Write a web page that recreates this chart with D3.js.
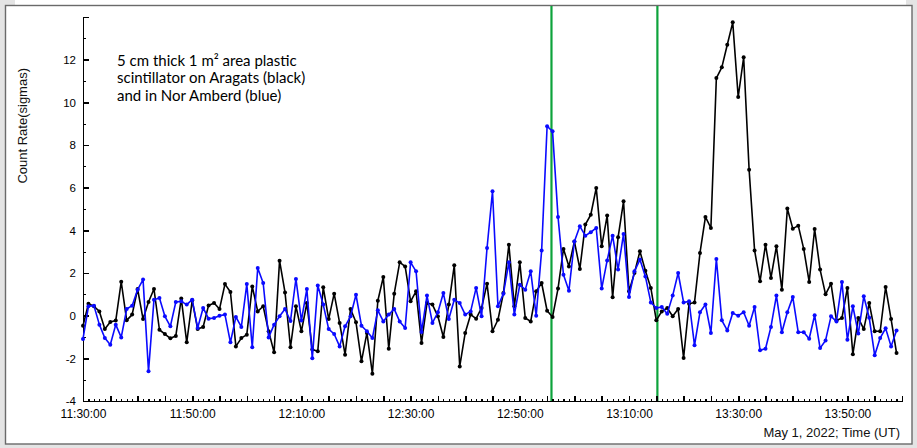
<!DOCTYPE html>
<html>
<head>
<meta charset="utf-8">
<script src="https://cdn.jsdelivr.net/npm/d3@7/dist/d3.min.js"></script>
<style>
  body { margin: 0; background: #fff; }
  .axis path, .axis line { stroke: #000; stroke-width: 1.6; shape-rendering: crispEdges; }
  .axis.minor line { stroke-width: 1.2; }
  .axis text { font-family: 'Liberation Sans', Arial, sans-serif; fill: #000; }
  .series { fill: none; stroke-width: 1.6; stroke-linejoin: round; }
  .note { font-family: Lato, 'Open Sans', sans-serif; font-size: 15px; fill: #000; }
  .title { font-family: 'Liberation Sans', Arial, sans-serif; font-size: 13px; fill: #111; }
</style>
</head>
<body>
<div id="chart"></div>
<script>

// Data, one value per minute starting 11:30 (UT)
var startTime = '11:30';
var endTime   = '14:00';

var aragatsRate = [
  -0.47, 0.56, 0.44, 0.2, -0.63, -0.3, -0.23, 1.59, -0.22, 0.05,
  1.25, -0.16, 0.64, 1.25, -0.66, -0.86, -1.06, -0.95, 0.8, -1.25,
  0.72, -0.63, -0.53, 0.48, 0.59, 0.31, 1.48, 1.11, -1.44, -1.05,
  -0.89, 1.37, 0.2, 0.44, -0.73, -1.72, 2.58, 1.09, -1.48, 0.44,
  -0.73, 0.59, -1.59, -1.67, 1.33, -0.16, 1.03, -0.34, -1.83, 0.31,
  -0.31, -2.14, -0.81, -2.72, 0.7, 1.81, -1.55, 1.03, 2.5, 2.31,
  0.67, 1.14, -1.28, 0.59, 0.52, -0.03, -1.0, 0.52, 2.36, -2.38,
  -0.81, 0.05, -0.14, 0.36, 1.5, -0.73, -0.19, 1.06, 3.33, 0.44,
  2.5, -0.11, -0.27, 1.14, 1.53, 0.23, -0.06, 1.27, 3.13, 2.31,
  3.48, 2.19, 4.27, 4.73, 5.99, 3.25, 4.69, 0.86, 3.67, 5.36,
  1.14, 2.0, 3.02, 2.11, 1.3, -0.22, 0.2, 0.36, -0.03, 0.31,
  -1.98, 0.56, 0.62, 2.94, 4.63, 4.11, 11.14, 11.64, 12.7, 13.75,
  10.25, 12.11, 6.84, 3.06, 1.61, 3.33, 1.77, 3.25, 1.22, 5.02,
  4.08, 4.22, 3.13, 1.58, 4.06, 2.16, 1.0, 1.5, -0.23, -0.11,
  1.3, -1.81, -0.11, -0.63, 0.59, -0.73, -0.73, 1.34, -0.16, -1.75
];

var norAmberdRate = [
  -1.09, 0.44, 0.47, -0.42, -1.05, -1.36, -0.42, -1.02, 0.31, 0.47,
  1.22, 1.69, -2.61, 0.75, 0.83, -0.03, -0.5, 0.64, 0.67, 0.52,
  0.75, -0.58, 0.36, -0.14, -0.11, 0, 0.05, -1.25, -0.06, -0.53,
  1.48, -1.48, 2.23, 1.53, -1.02, -0.42, -0.03, 0.31, -0.25, 1.72,
  -0.23, 1.25, -2.0, 1.41, 0.52, -0.63, -0.86, -1.44, -0.5, -0.03,
  0.98, -0.47, -0.73, -1.05, 0.25, -0.27, 0.05, 0.31, -0.27, -0.58,
  2.5, 2.08, -0.77, 0.94, -0.34, 0.16, 1.06, -0.16, 0.75, 0.59,
  0.05, 0.2, 1.3, -0.03, 3.17, 5.83, 0.44, 1.03, 2.5, 0.05,
  1.45, 1.22, 2.08, 0, 3.05, 8.88, 8.64, 4.63, 1.92, 1.17,
  3.48, 4.19, 3.75, 3.91, 4.11, 1.27, 2.59, 3.75, 2.16, 3.83,
  0.88, 2.08, 2.63, 1.84, 0.62, 0.36, 0.41, 0.09, 0.94, 2.0,
  0.62, 0.67, -1.39, 0.16, 0.52, -0.81, 2.66, -0.22, -0.69, 0.12,
  0, 0.16, -0.47, 0.41, -1.62, -1.55, -0.53, 0.94, -0.78, 0.16,
  0.87, -0.78, -0.78, -1.08, 0.02, -1.52, -1.16, -0.03, -0.27, 1.58,
  -1.13, 0.44, -0.84, 0.91, -0.1, -1.86, -1.05, -0.59, -1.44, -0.69
];

// Vertical green markers
var markerTimes = ['12:55:48', '13:15:12'];

var yMajorTicks = [-4, -2, 0, 2, 4, 6, 8, 10, 12, 14];
var yMinorTicks = [-3, -1, 1, 3, 5, 7, 9, 11, 13];

var noteLines = [
  '5 cm thick 1 m\u00b2 area plastic',
  'scintillator on Aragats (black)',
  'and in Nor Amberd (blue)'
];

var TimeGraph = function( _id ) {

  var that = this;

  that.id = _id;

  that.widthCont  = 917;
  that.heightCont = 448;
  that.margin     = {top: 17, right: 15, bottom: 47, left: 83};

  that.init = function() {

    that.width  = that.widthCont - that.margin.left - that.margin.right;
    that.height = that.heightCont - that.margin.top - that.margin.bottom;

    var parseMin = d3.timeParse('%H:%M');
    var parseSec = d3.timeParse('%H:%M:%S');

    that.start   = parseMin(startTime);
    that.times   = d3.timeMinute.range(that.start, parseMin(endTime));
    that.markers = markerTimes.map(function(t) { return parseSec(t); });

    that.x = d3.scaleTime()
      .domain([that.start, parseMin(endTime)])
      .range([0, that.width]);

    that.y = d3.scaleLinear()
      .domain([d3.min(yMajorTicks), d3.max(yMajorTicks)])
      .range([that.height, 0]);

    that.svg = d3.select('#'+that.id).append('svg')
      .attr('width', that.widthCont)
      .attr('height', that.heightCont);

    drawFrame();

    that.container = that.svg.append('g')
      .attr('transform', 'translate(' + that.margin.left + ',' + that.margin.top + ')');

    drawMarkers();
    drawAxes();
    drawSeries(aragatsRate, '#000');
    drawSeries(norAmberdRate, '#0a0aff');
    drawTexts();

    return that;
  };

  var drawFrame = function() {
    // grey window edges round the white panel
    that.svg.append('rect')
      .attr('width', that.widthCont).attr('height', that.heightCont)
      .attr('fill', '#fff');
    that.svg.append('rect')
      .attr('x', 0).attr('y', 0).attr('width', 5).attr('height', that.heightCont)
      .attr('fill', '#e4e4e4');
    that.svg.append('rect')
      .attr('x', 0).attr('y', 0).attr('width', 15).attr('height', 5)
      .attr('fill', '#e4e4e4');
    that.svg.append('rect')
      .attr('x', that.widthCont - 11).attr('y', 0).attr('width', 11).attr('height', that.heightCont)
      .attr('fill', '#e4e4e4');
    that.svg.append('rect')
      .attr('x', 0).attr('y', that.heightCont - 4).attr('width', that.widthCont).attr('height', 4)
      .attr('fill', '#e4e4e4');
    that.svg.append('rect')
      .attr('x', 5.5).attr('y', 5.5)
      .attr('width', that.widthCont - 11 + 0.5).attr('height', that.heightCont - 9.5)
      .attr('fill', '#fff')
      .attr('stroke', '#6a6a6a')
      .attr('stroke-width', 1.4);
  };

  var drawMarkers = function() {
    that.container.selectAll('.marker')
      .data(that.markers)
    .enter().append('line')
      .attr('class', 'marker')
      .attr('x1', function(d) { return that.x(d); })
      .attr('x2', function(d) { return that.x(d); })
      .attr('y1', -that.margin.top + 6)
      .attr('y2', that.height)
      .attr('stroke', '#0da33c')
      .attr('stroke-width', 2.2);
  };

  var drawAxes = function() {
    var fmt = d3.timeFormat('%H:%M:%S');

    // minute ticks
    that.container.append('g')
      .attr('class', 'x axis minor')
      .attr('transform', 'translate(0,' + that.height + ')')
      .call(d3.axisBottom(that.x)
        .ticks(d3.timeMinute.every(1))
        .tickSizeInner(-2.5).tickSizeOuter(0)
        .tickFormat(''));

    // 5 minute ticks, labels every 20 minutes
    that.container.append('g')
      .attr('class', 'x axis')
      .attr('transform', 'translate(0,' + that.height + ')')
      .call(d3.axisBottom(that.x)
        .ticks(d3.timeMinute.every(5))
        .tickSizeInner(-5.5).tickSizeOuter(0).tickPadding(8)
        .tickFormat(function(d) {
          return d3.timeMinute.count(that.start, d) % 20 === 0 ? fmt(d) : '';
        }))
      .selectAll('text')
      .style('font-size', '12px');

    that.container.append('g')
      .attr('class', 'y axis minor')
      .call(d3.axisLeft(that.y)
        .tickValues(yMinorTicks)
        .tickSizeInner(-3).tickSizeOuter(0)
        .tickFormat(''));

    that.container.append('g')
      .attr('class', 'y axis')
      .call(d3.axisLeft(that.y)
        .tickValues(yMajorTicks)
        .tickSizeInner(-5.5).tickSizeOuter(0).tickPadding(7)
        .tickFormat(function(d) { return d === d3.max(yMajorTicks) ? '' : d; }))
      .selectAll('text')
      .style('font-size', '11.5px');

    // longer cap on the top of the y axis
    that.container.select('g.y.axis').selectAll('.tick line')
      .filter(function(d) { return d === d3.max(yMajorTicks); })
      .attr('x2', 7.5);
  };

  var drawSeries = function(values, colour) {
    var data = that.times.map(function(t, i) { return {time: t, value: values[i]}; });

    var line = d3.line()
      .x(function(d) { return that.x(d.time); })
      .y(function(d) { return that.y(d.value); });

    var g = that.container.append('g');

    g.append('path')
      .datum(data)
      .attr('class', 'series')
      .attr('stroke', colour)
      .attr('d', line);

    g.selectAll('circle')
      .data(data)
    .enter().append('circle')
      .attr('cx', function(d) { return that.x(d.time); })
      .attr('cy', function(d) { return that.y(d.value); })
      .attr('r', 2)
      .attr('fill', colour);
  };

  var drawTexts = function() {
    that.svg.append('text')
      .attr('class', 'title')
      .attr('transform', 'translate(27,' + (that.margin.top + that.y(8.9)) + ') rotate(-90)')
      .style('text-anchor', 'middle')
      .text('Count Rate(sigmas)');

    that.svg.append('text')
      .attr('class', 'title')
      .attr('x', that.margin.left + that.width - 2)
      .attr('y', that.heightCont - 11)
      .style('text-anchor', 'end')
      .text('May 1, 2022; Time (UT)');

    that.container.append('text')
      .attr('class', 'note')
      .selectAll('tspan')
      .data(noteLines)
    .enter().append('tspan')
      .attr('x', 34)
      .attr('y', function(d, i) { return 49 + i * 17.3; })
      .text(function(d) { return d; });
  };

  return that;
};

new TimeGraph('chart').init();

</script>
</body>
</html>
